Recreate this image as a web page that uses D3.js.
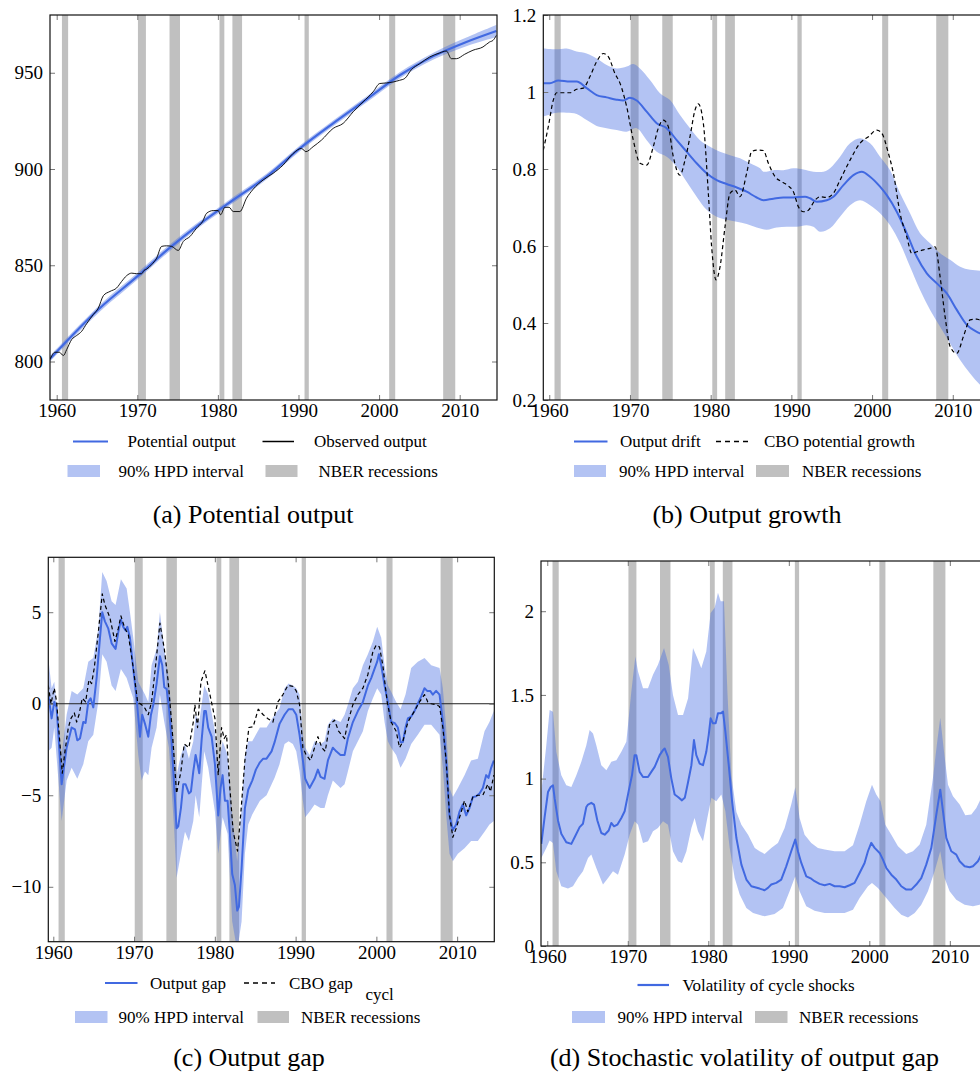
<!DOCTYPE html>
<html>
<head>
<meta charset="utf-8">
<script src="https://cdn.jsdelivr.net/npm/d3@7"></script>
<style>
body { margin: 0; background: #fff; }
svg { display: block; font-family: "Liberation Serif", "Times New Roman", serif; }
svg .axis text { font-family: "Liberation Serif", "Times New Roman", serif; font-size: 19px; fill: #000; }
.legend text { font-size: 17px; fill: #000; }
.caption { font-size: 26px; fill: #000; }
</style>
</head>
<body>
<svg id="fig" width="980" height="1074"></svg>
<script>
/* Values: [year, value] pairs */

var xTicks = [1960, 1970, 1980, 1990, 2000, 2010];
var recessionStart = [1960.65, 1970.08, 1974.0, 1980.2, 1981.8, 1990.75, 2001.25, 2007.95];
var recessionEnd   = [1961.42, 1971.07, 1975.3, 1980.8, 1983.0, 1991.28, 2002.0, 2009.45];

// (a) potential output
var potentialOutput = [[1959.17,801.4],[1965.37,827.8],[1970.0,844.2],[1973.64,857.7],[1977.77,871.5],[1981.9,883.9],
  [1986.03,896.0],[1990.17,910.7],[1994.3,923.7],[1998.43,936.1],[2002.56,948.7],[2006.69,958.5],[2010.83,966.0],[2014.55,971.7]];
var potentialUpper = [[1959.17,803],[1965.37,829.5],[1970.0,846],[1973.64,859.5],[1977.77,873],[1981.9,885.5],[1986.03,897.5],
  [1990.17,912.2],[1994.3,925.2],[1998.43,937.7],[2002.56,950.3],[2006.69,960.3],[2010.83,968.3],[2014.55,974.8]];
var potentialLower = [[1959.17,800],[1965.37,826],[1970.0,842.5],[1973.64,856],[1977.77,870],[1981.9,882.3],[1986.03,894.5],
  [1990.17,909.2],[1994.3,922.2],[1998.43,934.5],[2002.56,947],[2006.69,956.7],[2010.83,963.8],[2014.55,968.6]];
var observedOutput = [[1959.17,801],[1959.79,804.8],[1960.33,804.8],[1960.83,803.1],[1961.24,806.2],[1961.86,811.4],[1962.48,813.5],
  [1963.10,815.7],[1963.72,819.7],[1964.55,824.4],[1965.17,827.8],[1965.79,834.2],[1966.61,836.4],[1967.44,838.2],[1968.06,841.6],
  [1968.68,844.6],[1969.30,845.9],[1969.92,845.6],[1970.54,845.6],[1970.83,847.3],[1971.16,848.0],[1971.78,850.3],[1972.40,853.7],
  [1973.02,859.8],[1973.64,860.1],[1974.26,859.8],[1975.08,857.7],[1975.70,862.3],[1976.53,864.9],[1977.36,869.3],[1978.10,872.7],
  [1978.60,877.0],[1979.42,878.4],[1980.04,878.4],[1980.33,876.2],[1980.87,880.1],[1981.40,880.1],[1981.90,877.9],[1982.73,877.9],
  [1983.55,884.8],[1984.38,889.5],[1985.62,894.3],[1986.86,897.8],[1988.10,902.1],[1989.34,908.1],[1990.37,910.7],[1990.91,909.0],
  [1991.82,911.6],[1992.85,915.0],[1994.30,921.1],[1995.54,923.7],[1996.78,929.7],[1998.02,934.9],[1999.26,940.1],[2000.08,944.4],
  [2000.91,944.7],[2001.74,945.2],[2002.56,946.1],[2003.18,947.0],[2004.01,951.6],[2005.04,954.7],[2006.28,958.2],[2007.52,960.3],
  [2008.35,961.3],[2008.97,957.3],[2009.59,957.3],[2010.62,959.6],[2011.65,961.7],[2012.89,963.4],[2013.72,966.0],[2014.13,966.8],[2014.55,969.4]];

// (b) output growth
var outputDrift = [[1959.26,1.023],[1960.08,1.023],[1961.12,1.03],[1962.56,1.027],[1963.39,1.027],[1964.63,1.01],[1965.87,0.992],
  [1967.11,0.986],[1968.35,0.98],[1969.17,0.978],[1970.0,0.985],[1970.83,0.978],[1972.07,0.949],[1973.31,0.919],[1974.55,0.906],
  [1975.79,0.875],[1977.02,0.845],[1978.26,0.815],[1979.5,0.789],[1980.74,0.771],[1981.98,0.761],[1983.22,0.752],[1984.46,0.741],
  [1985.7,0.726],[1986.53,0.719],[1987.77,0.723],[1989.01,0.726],[1990.25,0.726],[1991.69,0.728],[1992.31,0.724],[1993.14,0.715],
  [1994.38,0.719],[1995.21,0.728],[1996.45,0.758],[1997.69,0.784],[1998.72,0.793],[1999.75,0.78],[2000.99,0.754],[2001.82,0.732],
  [2003.06,0.689],[2004.3,0.633],[2005.54,0.572],[2006.78,0.529],[2008.02,0.503],[2009.26,0.477],[2010.5,0.434],[2011.74,0.395],
  [2012.98,0.377],[2013.39,0.373],[2014.6,0.36]];
var driftUpper = [[1959.26,1.113],[1960.91,1.111],[1962.15,1.113],[1963.39,1.105],[1964.63,1.10],[1965.87,1.087],[1967.11,1.07],
  [1968.35,1.061],[1969.59,1.066],[1970.41,1.073],[1971.24,1.061],[1972.48,1.031],[1973.72,0.997],[1974.96,0.979],[1976.2,0.94],
  [1977.44,0.906],[1978.68,0.875],[1979.92,0.858],[1981.16,0.845],[1982.4,0.836],[1983.64,0.828],[1984.88,0.815],[1986.12,0.802],
  [1986.53,0.793],[1987.77,0.797],[1989.01,0.797],[1990.25,0.802],[1991.49,0.799],[1992.73,0.793],[1993.97,0.793],[1994.79,0.802],
  [1996.03,0.832],[1997.27,0.867],[1998.51,0.88],[1999.75,0.867],[2000.99,0.832],[2002.23,0.797],[2003.47,0.737],[2004.71,0.685],
  [2005.95,0.633],[2007.19,0.607],[2008.43,0.581],[2009.67,0.564],[2010.91,0.546],[2012.15,0.538],[2013.39,0.536],[2014.6,0.535]];
var driftLower = [[1959.26,0.936],[1960.91,0.946],[1962.15,0.946],[1963.39,0.943],[1964.63,0.927],[1965.87,0.912],[1967.11,0.906],
  [1968.35,0.901],[1969.59,0.897],[1970.83,0.906],[1972.07,0.875],[1973.31,0.845],[1974.55,0.832],[1975.79,0.806],[1977.02,0.767],
  [1978.26,0.728],[1979.5,0.694],[1980.74,0.676],[1981.98,0.668],[1983.22,0.663],[1984.46,0.657],[1985.7,0.648],[1986.94,0.642],
  [1988.18,0.648],[1989.42,0.65],[1990.66,0.65],[1991.9,0.654],[1992.73,0.65],[1993.55,0.637],[1994.79,0.646],[1996.03,0.676],
  [1997.27,0.706],[1998.51,0.719],[1999.75,0.706],[2000.99,0.685],[2002.23,0.654],[2003.47,0.607],[2004.71,0.546],[2005.95,0.486],
  [2007.19,0.434],[2008.43,0.39],[2009.67,0.347],[2010.91,0.304],[2012.15,0.269],[2013.39,0.239],[2014.6,0.215]];
var cboGrowth = [[1959.26,0.849],[1959.88,0.91],[1960.5,0.979],[1960.91,0.998],[1961.74,0.998],[1962.56,0.998],[1963.39,1.007],
  [1964.21,1.01],[1965.04,1.04],[1965.87,1.079],[1966.69,1.10],[1967.31,1.092],[1968.14,1.048],[1968.76,1.023],[1969.59,0.962],
  [1970.41,0.875],[1971.24,0.815],[1972.07,0.81],[1972.89,0.858],[1973.51,0.906],[1974.13,0.927],[1974.75,0.91],[1975.37,0.832],
  [1976.2,0.784],[1976.82,0.823],[1977.44,0.884],[1978.06,0.953],[1978.47,0.969],[1979.09,0.919],[1979.71,0.737],[1980.12,0.598],
  [1980.66,0.512],[1981.16,0.546],[1981.78,0.65],[1982.4,0.737],[1983.02,0.745],[1983.64,0.728],[1984.46,0.789],[1985.08,0.845],
  [1985.7,0.849],[1986.53,0.848],[1987.15,0.815],[1987.98,0.78],[1988.8,0.767],[1989.63,0.756],[1990.25,0.741],[1990.87,0.702],
  [1991.49,0.689],[1992.11,0.693],[1992.93,0.719],[1993.55,0.728],[1994.38,0.726],[1995.21,0.737],[1996.03,0.771],[1997.27,0.823],
  [1998.51,0.867],[1999.55,0.884],[2000.58,0.901],[2001.2,0.893],[2002.02,0.841],[2002.64,0.789],[2003.47,0.685],[2004.3,0.624],
  [2004.92,0.581],[2005.54,0.585],[2006.36,0.59],[2007.19,0.594],[2007.81,0.598],[2008.43,0.52],[2009.05,0.416],[2009.67,0.339],
  [2010.5,0.321],[2011.32,0.365],[2012.15,0.408],[2012.98,0.41],[2013.39,0.408],[2014.6,0.41]];

// (c) output gap
var outputGap = [[1959.38,0.5],[1959.79,-0.8],[1960.12,0.1],[1960.41,-0.2],[1961.03,-4.4],[1961.65,-2.4],[1962.27,-1.3],
  [1962.68,-1.4],[1962.97,-2.0],[1963.30,-1.9],[1963.71,-1.0],[1964.00,-1.05],[1964.33,0.1],[1964.62,0.3],[1964.95,-0.2],
  [1965.36,1.4],[1965.78,3.6],[1966.06,5.0],[1966.39,4.5],[1966.81,4.1],[1967.22,3.3],[1967.71,3.0],[1968.04,3.9],[1968.37,4.6],
  [1968.66,4.2],[1968.95,4.0],[1969.16,4.2],[1969.49,3.6],[1969.90,1.9],[1970.31,0.3],[1970.73,-1.8],[1971.01,-0.6],[1971.35,-1.1],
  [1971.76,-1.8],[1972.09,-0.6],[1972.38,-0.05],[1972.79,1.1],[1973.20,2.6],[1973.49,2.1],[1973.74,0.9],[1974.03,0.8],[1974.32,-0.2],
  [1974.65,-2.1],[1974.98,-4.6],[1975.26,-6.8],[1975.47,-6.7],[1975.80,-5.7],[1976.09,-4.4],[1976.38,-4.4],[1976.79,-4.9],
  [1977.04,-4.8],[1977.33,-3.7],[1977.62,-2.8],[1977.86,-3.3],[1978.07,-3.8],[1978.36,-2.0],[1978.69,-0.4],[1978.89,-0.4],
  [1979.18,-1.3],[1979.60,-1.8],[1980.01,-3.3],[1980.42,-6.1],[1980.71,-4.6],[1980.96,-3.9],[1981.25,-5.3],[1981.58,-5.3],
  [1981.86,-7.1],[1982.15,-9.3],[1982.48,-9.9],[1982.77,-11.3],[1982.98,-11.1],[1983.31,-9.0],[1983.72,-5.7],[1984.13,-4.7],
  [1984.63,-4.2],[1985.08,-3.6],[1985.58,-3.2],[1985.99,-3.0],[1986.40,-3.0],[1987.02,-2.6],[1987.40,-2.1],[1988.01,-1.1],
  [1988.63,-0.6],[1989.13,-0.3],[1989.66,-0.3],[1990.08,-0.6],[1990.49,-1.7],[1990.90,-3.1],[1991.19,-4.1],[1991.73,-4.6],
  [1992.35,-4.1],[1992.76,-3.6],[1993.09,-4.0],[1993.58,-4.1],[1994.00,-3.1],[1994.61,-2.4],[1995.03,-2.6],[1995.56,-2.8],
  [1996.06,-2.8],[1996.47,-1.9],[1997.09,-1.0],[1997.71,-0.4],[1998.33,0.1],[1998.95,1.0],[1999.36,1.4],[1999.77,1.9],[2000.10,2.3],
  [2000.31,2.7],[2000.60,2.1],[2001.01,1.0],[2001.42,0.1],[2001.83,-1.0],[2002.25,-1.05],[2002.66,-1.3],[2002.99,-2.1],
  [2003.28,-2.1],[2003.61,-1.3],[2003.90,-0.8],[2004.31,-0.7],[2004.72,-0.4],[2005.13,0.0],[2005.55,0.4],[2005.96,0.85],
  [2006.29,0.7],[2006.66,0.7],[2006.99,0.5],[2007.40,0.7],[2007.82,0.5],[2008.23,-1.0],[2008.64,-3.1],[2009.05,-6.1],[2009.47,-6.9],
  [2009.88,-6.6],[2010.29,-5.9],[2010.70,-5.5],[2011.12,-6.1],[2011.53,-5.7],[2011.94,-5.1],[2012.35,-5.05],[2012.77,-4.9],
  [2013.18,-4.6],[2013.59,-3.9],[2013.88,-4.05],[2014.21,-3.5],[2014.54,-3.1]];
var gapUpper = [[1959.38,2.5],[1959.79,0.85],[1960.12,1.2],[1961.03,-2.8],[1961.65,-0.6],[1962.27,0.7],[1962.97,0.5],[1963.71,0.85],
  [1964.33,2.3],[1964.95,2.5],[1965.57,4.1],[1966.06,7.2],[1966.60,6.7],[1967.22,5.6],[1967.71,5.4],[1968.37,6.8],[1969.08,6.3],
  [1969.49,5.0],[1969.90,3.6],[1970.52,1.2],[1970.93,0.85],[1971.35,0.5],[1971.76,0.1],[1972.17,2.1],[1972.79,3.0],[1973.20,5.0],
  [1973.74,3.0],[1974.32,1.2],[1974.98,-2.4],[1975.26,-3.9],[1975.80,-2.8],[1976.30,-2.2],[1976.79,-3.0],[1977.33,-2.05],
  [1977.62,-0.6],[1978.07,-1.0],[1978.69,1.0],[1979.18,0.5],[1980.01,-1.5],[1980.42,-3.5],[1980.96,-2.05],[1981.58,-2.8],
  [1982.15,-6.1],[1982.77,-8.6],[1983.31,-5.7],[1983.72,-2.8],[1984.13,-2.05],[1984.63,-2.05],[1985.58,-1.3],[1986.40,-1.3],
  [1987.40,-0.6],[1988.01,-0.25],[1988.63,0.85],[1989.13,1.1],[1989.66,1.0],[1990.08,0.85],[1990.49,0.5],[1990.90,-1.7],
  [1991.19,-2.4],[1991.73,-2.8],[1992.35,-2.05],[1993.09,-2.2],[1993.58,-2.05],[1994.00,-1.15],[1994.61,-0.8],[1995.56,-1.0],
  [1996.06,-0.6],[1996.47,-0.05],[1997.09,0.85],[1997.71,1.2],[1998.33,2.1],[1998.95,2.7],[1999.57,3.4],[2000.10,4.2],[2000.60,3.6],
  [2001.01,2.1],[2001.42,1.0],[2001.83,0.65],[2002.45,0.1],[2002.99,-0.3],[2003.61,0.5],[2004.31,1.95],[2005.13,2.3],[2005.96,2.5],
  [2006.79,2.1],[2007.82,1.95],[2008.23,0.85],[2008.64,-1.3],[2009.05,-4.6],[2009.47,-5.1],[2010.09,-4.6],[2010.91,-3.9],
  [2011.73,-3.1],[2012.56,-3.0],[2013.39,-1.5],[2014.00,-1.0],[2014.54,-0.4]];
var gapLower = [[1959.38,-2.6],[1959.79,-2.4],[1960.12,-1.3],[1961.03,-6.4],[1961.65,-4.2],[1962.27,-3.5],[1962.97,-4.1],
  [1963.71,-3.3],[1964.33,-2.05],[1964.95,-1.7],[1965.57,0.1],[1966.06,2.7],[1966.60,2.3],[1967.22,1.0],[1967.71,0.7],[1968.37,1.9],
  [1969.08,1.4],[1969.49,0.85],[1969.90,0.3],[1970.52,-2.8],[1970.93,-4.2],[1971.35,-3.7],[1971.76,-3.9],[1972.17,-2.4],
  [1972.79,-1.3],[1973.20,0.5],[1973.74,-1.0],[1974.32,-2.4],[1974.98,-7.0],[1975.26,-9.5],[1975.80,-8.2],[1976.30,-7.0],
  [1976.79,-7.5],[1977.33,-6.4],[1977.62,-5.0],[1978.07,-6.2],[1978.69,-2.6],[1979.18,-3.5],[1980.01,-5.9],[1980.42,-8.2],
  [1980.96,-6.2],[1981.58,-7.1],[1982.15,-11.9],[1982.77,-13.5],[1983.31,-11.9],[1983.72,-8.2],[1984.13,-6.6],[1984.63,-6.05],
  [1985.58,-5.3],[1986.40,-5.0],[1987.40,-4.05],[1988.01,-3.3],[1988.63,-2.2],[1989.13,-2.05],[1989.66,-2.2],[1990.08,-2.6],
  [1990.49,-3.7],[1990.90,-5.3],[1991.19,-6.2],[1991.73,-5.9],[1992.35,-5.5],[1993.09,-5.7],[1993.58,-5.7],[1994.00,-5.0],
  [1994.61,-4.2],[1995.56,-4.6],[1996.06,-4.4],[1996.47,-3.7],[1997.09,-2.6],[1997.71,-2.05],[1998.33,-1.5],[1998.95,-0.4],
  [1999.57,0.3],[2000.10,0.85],[2000.60,0.5],[2001.01,-1.0],[2001.42,-2.05],[2001.83,-2.4],[2002.45,-2.8],[2002.99,-3.5],
  [2003.61,-3.0],[2004.31,-2.2],[2005.13,-1.7],[2005.96,-1.15],[2006.79,-1.15],[2007.82,-1.7],[2008.23,-3.5],[2008.64,-6.05],
  [2009.05,-8.2],[2009.47,-8.6],[2010.09,-8.2],[2010.91,-7.9],[2011.73,-7.5],[2012.56,-7.5],[2013.39,-7.0],[2014.00,-6.6],[2014.54,-6.4]];
var cboGap = [[1959.38,1.0],[1959.71,0],[1960.12,0.85],[1960.41,0.1],[1961.11,-3.8],[1961.44,-2.6],[1961.86,-1.3],[1962.19,-0.8],
  [1962.60,-0.5],[1962.89,-1.0],[1963.18,-0.6],[1963.59,0.3],[1964.00,0.1],[1964.41,1.3],[1964.74,1.1],[1965.07,1.95],[1965.57,3.9],
  [1966.06,6.0],[1966.39,5.4],[1967.01,4.7],[1967.63,3.4],[1968.04,4.1],[1968.37,4.8],[1968.87,4.1],[1969.28,3.8],[1969.90,1.95],
  [1970.44,0.1],[1970.93,-0.05],[1971.35,-0.25],[1971.76,-0.6],[1972.17,0.1],[1972.67,2.1],[1973.20,4.4],[1973.74,3.0],[1974.23,1.2],
  [1974.73,-1.5],[1975.26,-4.9],[1975.80,-3.7],[1976.21,-2.2],[1976.79,-2.4],[1977.33,-1.0],[1977.53,-0.05],[1977.86,-1.3],
  [1978.28,1.2],[1978.77,1.8],[1979.39,0.5],[1980.01,-0.8],[1980.42,-3.9],[1980.83,-1.3],[1981.16,-1.9],[1981.45,-1.7],
  [1981.86,-4.6],[1982.27,-7.0],[1982.81,-8.05],[1983.23,-5.9],[1983.72,-3.1],[1984.22,-1.3],[1984.75,-1.25],[1985.37,-0.3],
  [1985.99,-0.6],[1986.53,-0.8],[1987.19,-1.0],[1987.81,0.1],[1988.43,0.5],[1989.05,1.0],[1989.66,0.95],[1990.08,0.7],[1990.49,-0.05],
  [1990.90,-2.4],[1991.31,-2.8],[1991.85,-3.1],[1992.35,-2.4],[1992.76,-1.8],[1993.25,-2.4],[1993.67,-2.6],[1994.20,-1.15],
  [1994.82,-0.9],[1995.32,-1.5],[1996.06,-1.9],[1996.47,-1.0],[1997.09,-0.05],[1997.71,0.5],[1998.33,0.85],[1998.95,1.6],
  [1999.57,2.85],[1999.98,3.2],[2000.39,3.1],[2000.80,2.1],[2001.34,0.1],[2001.83,-1.0],[2002.45,-1.5],[2002.87,-2.4],[2003.28,-2.05],
  [2003.90,-1.0],[2004.72,-0.4],[2005.34,0.1],[2005.96,0.5],[2006.37,0.1],[2006.79,0.0],[2007.40,-0.05],[2007.82,-0.15],
  [2008.23,-1.3],[2008.64,-3.1],[2009.05,-6.05],[2009.47,-7.3],[2009.88,-6.8],[2010.41,-6.05],[2010.91,-5.3],[2011.32,-5.9],
  [2011.94,-5.1],[2012.56,-5.0],[2013.18,-5.0],[2013.80,-4.4],[2014.13,-4.8],[2014.54,-3.9]];

// (d) stochastic volatility of output gap
var cycleVol = [[1959.26,0.61],[1959.67,0.77],[1960.09,0.92],[1960.42,0.95],[1960.71,0.96],[1960.92,0.88],[1961.33,0.75],
  [1961.74,0.67],[1962.36,0.62],[1962.99,0.61],[1963.40,0.65],[1964.02,0.71],[1964.43,0.73],[1964.85,0.83],[1965.06,0.845],
  [1965.47,0.855],[1965.80,0.845],[1966.22,0.75],[1966.71,0.675],[1967.13,0.665],[1967.63,0.69],[1967.95,0.735],[1968.29,0.715],
  [1968.70,0.725],[1969.20,0.765],[1969.61,0.805],[1970.11,0.925],[1970.52,1.02],[1970.85,1.14],[1971.06,1.14],[1971.47,1.04],
  [1971.89,1.01],[1972.51,1.01],[1972.92,1.04],[1973.34,1.07],[1973.96,1.14],[1974.37,1.17],[1974.58,1.18],[1974.99,1.13],
  [1975.41,1.0],[1975.82,0.905],[1976.24,0.89],[1976.73,0.87],[1977.08,0.885],[1977.49,0.98],[1977.90,1.08],[1978.22,1.23],
  [1978.51,1.14],[1978.93,1.09],[1979.34,1.08],[1979.75,1.16],[1980.05,1.26],[1980.29,1.36],[1980.58,1.33],[1980.91,1.33],
  [1981.20,1.39],[1981.54,1.39],[1981.83,1.40],[1982.12,1.28],[1982.54,1.08],[1982.95,0.865],[1983.49,0.645],[1984.11,0.486],
  [1984.73,0.397],[1985.35,0.357],[1986.37,0.343],[1986.99,0.333],[1987.41,0.347],[1987.82,0.367],[1988.44,0.377],[1989.06,0.397],
  [1989.68,0.476],[1990.30,0.566],[1990.80,0.636],[1991.13,0.566],[1991.55,0.496],[1992.17,0.416],[1992.79,0.402],[1993.20,0.387],
  [1993.82,0.371],[1994.45,0.363],[1995.07,0.371],[1995.69,0.357],[1996.31,0.357],[1996.93,0.351],[1997.55,0.363],[1998.17,0.377],
  [1998.79,0.436],[1999.41,0.496],[1999.83,0.566],[2000.24,0.616],[2000.66,0.586],[2001.28,0.556],[2001.69,0.516],[2002.11,0.466],
  [2002.73,0.426],[2003.35,0.397],[2003.97,0.357],[2004.59,0.337],[2005.21,0.337],[2005.83,0.367],[2006.45,0.406],[2007.07,0.486],
  [2007.70,0.586],[2008.32,0.785],[2008.81,0.934],[2009.15,0.805],[2009.56,0.646],[2010.18,0.566],[2010.80,0.546],[2011.22,0.506],
  [2011.84,0.476],[2012.46,0.470],[2012.87,0.476],[2013.49,0.506],[2013.75,0.53],[2014.2,0.58]];
var volUpper = [[1959.26,0.92],[1959.88,1.20],[1960.29,1.41],[1960.71,1.40],[1961.12,1.16],[1961.74,1.02],[1962.36,0.96],
  [1962.99,0.95],[1963.61,1.02],[1964.23,1.10],[1964.85,1.20],[1965.26,1.29],[1965.68,1.27],[1966.09,1.20],[1966.71,1.08],
  [1967.34,1.05],[1967.95,1.10],[1968.58,1.11],[1969.20,1.16],[1969.82,1.22],[1970.44,1.52],[1970.94,1.73],[1971.27,1.64],
  [1971.89,1.54],[1972.51,1.54],[1973.13,1.62],[1973.75,1.68],[1974.50,1.78],[1975.08,1.68],[1975.61,1.50],[1976.24,1.38],
  [1976.86,1.38],[1977.49,1.48],[1978.10,1.78],[1978.63,1.72],[1979.13,1.66],[1979.75,1.76],[1980.29,1.99],[1980.79,2.02],
  [1981.20,2.11],[1981.54,2.06],[1981.95,2.06],[1982.37,1.52],[1982.86,1.02],[1983.49,0.80],[1984.11,0.725],[1984.94,0.665],
  [1985.77,0.586],[1986.37,0.566],[1986.99,0.55],[1987.82,0.586],[1988.65,0.616],[1989.48,0.705],[1990.30,0.845],[1990.80,0.948],
  [1991.34,0.765],[1991.96,0.665],[1992.79,0.616],[1993.62,0.586],[1994.45,0.576],[1995.69,0.566],[1996.93,0.566],[1997.97,0.602],
  [1998.79,0.725],[1999.62,0.865],[2000.33,0.964],[2000.86,0.905],[2001.40,0.865],[2001.98,0.725],[2002.73,0.665],[2003.56,0.596],
  [2004.59,0.55],[2005.42,0.566],[2006.25,0.606],[2007.07,0.725],[2007.90,1.004],[2008.44,1.223],[2008.81,1.363],[2009.27,1.164],
  [2009.77,0.964],[2010.39,0.895],[2011.22,0.845],[2011.92,0.781],[2012.67,0.785],[2013.29,0.825],[2013.70,0.865],[2014.2,0.92]];
var volLower = [[1959.26,0.526],[1959.88,0.586],[1960.29,0.63],[1960.71,0.616],[1961.12,0.446],[1961.74,0.357],[1962.57,0.343],
  [1963.19,0.357],[1963.81,0.406],[1964.43,0.446],[1965.06,0.526],[1965.47,0.546],[1966.09,0.466],[1966.92,0.367],[1967.55,0.406],
  [1968.16,0.446],[1968.78,0.426],[1969.61,0.546],[1970.23,0.665],[1970.85,0.745],[1971.27,0.725],[1971.89,0.616],[1972.51,0.626],
  [1973.13,0.685],[1973.75,0.705],[1974.37,0.745],[1974.99,0.725],[1975.61,0.566],[1976.24,0.506],[1976.73,0.496],[1977.28,0.566],
  [1977.90,0.705],[1978.30,0.765],[1978.72,0.685],[1979.34,0.626],[1979.88,0.765],[1980.38,0.885],[1980.99,0.865],[1981.62,0.905],
  [1982.12,0.805],[1982.66,0.586],[1983.28,0.406],[1983.90,0.307],[1984.73,0.227],[1985.56,0.197],[1986.99,0.177],[1988.23,0.191],
  [1989.27,0.227],[1990.10,0.327],[1990.80,0.416],[1991.34,0.327],[1992.17,0.237],[1993.20,0.211],[1994.45,0.197],[1995.69,0.197],
  [1996.93,0.197],[1997.97,0.217],[1998.79,0.287],[1999.83,0.357],[2000.33,0.377],[2001.07,0.347],[2002.11,0.287],[2003.14,0.227],
  [2003.97,0.187],[2004.80,0.171],[2005.63,0.197],[2006.45,0.247],[2007.28,0.327],[2008.11,0.446],[2008.81,0.566],[2009.35,0.406],
  [2009.97,0.327],[2010.80,0.277],[2011.84,0.247],[2012.87,0.237],[2013.70,0.247],[2014.2,0.26]];

var ticksA = [800, 850, 900, 950];
var ticksB = [0.2, 0.4, 0.6, 0.8, 1, 1.2];
var ticksC = [-10, -5, 0, 5];
var ticksD = [0, 0.5, 1, 1.5, 2];

/* Drawing */

var BLUE = "#4169e1";
var BAND = "#b3c3f3";
var GREY = "#c0c0c0";
var svg = d3.select("#fig");

function drawPanel(p) {
	var g = svg.append("g").attr("transform", "translate(" + p.left + "," + p.top + ")");
	var x = d3.scaleLinear().domain(p.xDomain).range([0, p.width]);
	var y = d3.scaleLinear().domain(p.yDomain).range([p.height, 0]);

	g.append("clipPath").attr("id", "clip-" + p.id)
		.append("rect").attr("width", p.width).attr("height", p.height);
	var plot = g.append("g").attr("clip-path", "url(#clip-" + p.id + ")");

	// Recession bars go at the back.
	plot.selectAll("rect.rec").data(d3.zip(recessionStart, recessionEnd)).join("rect")
		.attr("class", "rec")
		.attr("x", function (d) { return x(d[0]); })
		.attr("width", function (d) { return x(d[1]) - x(d[0]); })
		.attr("y", 0).attr("height", p.height)
		.attr("fill", GREY);

	// HPD band: upper edge forward, lower edge back.
	var edge = d3.line().x(function (d) { return x(d[0]); }).y(function (d) { return y(d[1]); })
		.curve(p.smooth ? d3.curveCatmullRom : d3.curveLinear);
	plot.append("path")
		.attr("d", edge(p.upper) + "L" + edge(p.lower.slice().reverse()).slice(1) + "Z")
		.attr("fill", BLUE).attr("fill-opacity", 0.4);

	if (p.zeroLine) {
		plot.append("line").attr("x1", 0).attr("x2", p.width)
			.attr("y1", y(0)).attr("y2", y(0))
			.attr("stroke", "#222").attr("stroke-width", 1);
	}

	var line = d3.line().x(function (d) { return x(d[0]); }).y(function (d) { return y(d[1]); })
		.curve(p.smooth ? d3.curveMonotoneX : d3.curveLinear);
	p.series.forEach(function (s) {
		plot.append("path").datum(s.data)
			.attr("d", line)
			.attr("fill", "none")
			.attr("stroke", s.color)
			.attr("stroke-width", s.width)
			.attr("stroke-dasharray", s.dash || null)
			.attr("stroke-linejoin", "round");
	});

	// Axes: labels on bottom/left, inward ticks on all four sides.
	function clean(a) {
		a.attr("font-family", null).attr("font-size", null);
		a.select(".domain").remove();
		a.selectAll(".tick line").attr("stroke", "#777");
	}
	g.append("g").attr("class", "axis").attr("transform", "translate(0," + p.height + ")")
		.call(d3.axisBottom(x).tickValues(xTicks).tickFormat(d3.format("d")).tickSize(-5).tickPadding(4))
		.call(clean);
	g.append("g").attr("class", "axis")
		.call(d3.axisTop(x).tickValues(xTicks).tickFormat("").tickSize(-5))
		.call(clean);
	g.append("g").attr("class", "axis")
		.call(d3.axisLeft(y).tickValues(p.yTicks).tickFormat(d3.format("~g")).tickSize(-5).tickPadding(7))
		.call(clean);
	g.append("g").attr("class", "axis").attr("transform", "translate(" + p.width + ",0)")
		.call(d3.axisRight(y).tickValues(p.yTicks).tickFormat("").tickSize(-5))
		.call(clean);

	g.append("rect").attr("width", p.width).attr("height", p.height)
		.attr("fill", "none").attr("stroke", "#111").attr("stroke-width", 1.2);

	// Legend, in page coordinates.
	var leg = svg.append("g").attr("class", "legend");
	p.legend.forEach(function (item) {
		if (item.kind === "line") {
			leg.append("line").attr("x1", item.x0).attr("x2", item.x1)
				.attr("y1", item.y).attr("y2", item.y)
				.attr("stroke", item.color).attr("stroke-width", item.width)
				.attr("stroke-dasharray", item.dash || null);
		} else if (item.kind === "rect") {
			leg.append("rect").attr("x", item.x0).attr("width", item.x1 - item.x0)
				.attr("y", item.y - 6).attr("height", 12).attr("fill", item.color);
		} else {
			leg.append("text").attr("x", item.x0).attr("y", item.y + 5.5).text(item.text);
		}
	});

	svg.append("text").attr("class", "caption")
		.attr("x", p.captionX).attr("y", p.captionY + 8)
		.attr("text-anchor", "middle").text(p.caption);
}

function legendRows(y1, row1, y2, x) {
	// row 2 is the same on every panel: band swatch and recession swatch
	return row1.map(function (r) { r.y = r.y || y1; return r; }).concat([
		{ kind: "rect", x0: x[0], x1: x[1], y: y2, color: BAND },
		{ kind: "text", x0: x[2], y: y2, text: "90% HPD interval" },
		{ kind: "rect", x0: x[3], x1: x[4], y: y2, color: GREY },
		{ kind: "text", x0: x[5], y: y2, text: "NBER recessions" }
	]);
}

drawPanel({
	id: "a", left: 50, top: 15, width: 447, height: 385,
	xDomain: [1959.17, 2014.63], yDomain: [780, 980], yTicks: ticksA, smooth: true,
	upper: potentialUpper, lower: potentialLower,
	series: [
		{ data: potentialOutput, color: BLUE, width: 2.2 },
		{ data: observedOutput, color: "#000", width: 0.9 }
	],
	legend: legendRows(441.5, [
		{ kind: "line", x0: 73, x1: 108, color: BLUE, width: 2.2 },
		{ kind: "text", x0: 127.5, text: "Potential output" },
		{ kind: "line", x0: 262.5, x1: 294, color: "#000", width: 1.5 },
		{ kind: "text", x0: 314, text: "Observed output" }
	], 471, [67.5, 100, 118.5, 265.5, 297.5, 318.5]),
	caption: "(a) Potential output", captionX: 253, captionY: 515
});

drawPanel({
	id: "b", left: 543.3, top: 15, width: 447, height: 385,
	xDomain: [1959.26, 2014.65], yDomain: [0.2, 1.2], yTicks: ticksB, smooth: true,
	upper: driftUpper, lower: driftLower,
	series: [
		{ data: outputDrift, color: BLUE, width: 2 },
		{ data: cboGrowth, color: "#000", width: 1.2, dash: "4,3" }
	],
	legend: legendRows(441.5, [
		{ kind: "line", x0: 574, x1: 607.5, color: BLUE, width: 2.2 },
		{ kind: "text", x0: 620, text: "Output drift" },
		{ kind: "line", x0: 716, x1: 750, color: "#000", width: 1.5, dash: "5,4" },
		{ kind: "text", x0: 764, text: "CBO potential growth" }
	], 471, [574, 606, 619, 756, 789, 802]),
	caption: "(b) Output growth", captionX: 747, captionY: 515
});

drawPanel({
	id: "c", left: 48.3, top: 557.3, width: 446, height: 384.4,
	xDomain: [1959.38, 2014.6], yDomain: [-13, 8], yTicks: ticksC, smooth: false, zeroLine: true,
	upper: gapUpper, lower: gapLower,
	series: [
		{ data: outputGap, color: BLUE, width: 2 },
		{ data: cboGap, color: "#000", width: 1.2, dash: "4,3" }
	],
	legend: legendRows(983, [
		{ kind: "line", x0: 105, x1: 137.5, color: BLUE, width: 2.2 },
		{ kind: "text", x0: 150, text: "Output gap" },
		{ kind: "line", x0: 244, x1: 275, color: "#000", width: 1.5, dash: "5,4" },
		{ kind: "text", x0: 289, text: "CBO gap" },
		{ kind: "text", x0: 365.5, y: 994, text: "cycl" }
	], 1017, [75, 107.5, 118.5, 257.5, 289, 301]),
	caption: "(c) Output gap", captionX: 249, captionY: 1058
});

drawPanel({
	id: "d", left: 541, top: 561, width: 447, height: 385,
	xDomain: [1959.22, 2014.74], yDomain: [0, 2.3], yTicks: ticksD, smooth: false,
	upper: volUpper, lower: volLower,
	series: [
		{ data: cycleVol, color: BLUE, width: 2 }
	],
	legend: legendRows(985, [
		{ kind: "line", x0: 637.5, x1: 669, color: BLUE, width: 2.2 },
		{ kind: "text", x0: 682.5, text: "Volatility of cycle shocks" }
	], 1017, [572, 605, 617.5, 755, 787.5, 799]),
	caption: "(d) Stochastic volatility of output gap", captionX: 744.5, captionY: 1058
});
</script>
</body>
</html>
